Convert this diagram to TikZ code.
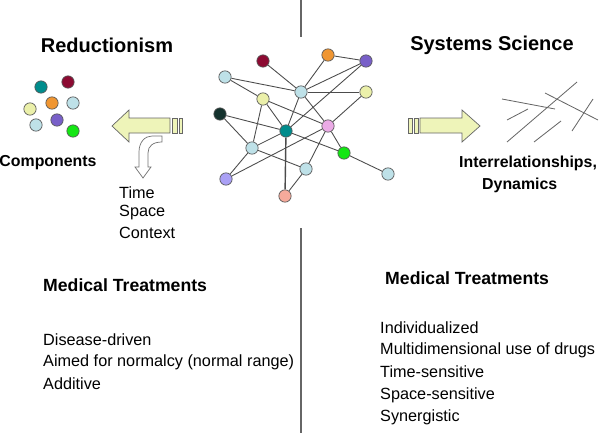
\documentclass[tikz,border=0pt]{standalone}
\usepackage{fontspec}
\setmainfont{Liberation Sans}
\usetikzlibrary{backgrounds}

\definecolor{wine}{RGB}{140,10,50}
\definecolor{amber}{RGB}{240,150,50}
\definecolor{violet}{RGB}{120,95,200}
\definecolor{paleblue}{RGB}{190,225,232}
\definecolor{paleyellow}{RGB}{235,240,170}
\definecolor{nearblack}{RGB}{20,50,45}
\definecolor{tealdot}{RGB}{0,140,140}
\definecolor{pinkdot}{RGB}{235,170,230}
\definecolor{greendot}{RGB}{20,230,20}
\definecolor{lilac}{RGB}{170,160,245}
\definecolor{salmon}{RGB}{245,170,155}
\definecolor{arrowfill}{RGB}{238,244,185}

\tikzset{
  ball/.style={circle, draw=black!65, line width=0.6pt, minimum size=10.5pt, inner sep=0pt},
  link/.style={draw=black!70, line width=0.75pt},
  title/.style={font=\fontsize{17}{20}\selectfont\bfseries},
  subtitle/.style={font=\fontsize{15}{18}\selectfont\bfseries, anchor=west, inner sep=0pt},
  caption/.style={font=\fontsize{13.5}{16}\selectfont\bfseries},
  plain/.style={font=\fontsize{13.8}{16}\selectfont, anchor=west, inner sep=0pt},
  fatarrow/.style={draw=black!60, line width=0.6pt, fill=arrowfill},
}

\begin{document}
\begin{tikzpicture}[x=0.85pt,y=-0.85pt]
  \useasboundingbox (0,0) rectangle (600,433);

  % divider
  \draw[black!60, line width=1.2pt] (301,0) -- (301,37);
  \draw[black!60, line width=1.2pt] (301,228) -- (301,433);

  % headings
  \node[title] (red) at (107,45) {Reductionism};
  \node[title] (sys) at (492,45) {Systems Science};

  % components
  \node[ball, fill=tealdot] (c1) at (41,87) {};
  \node[ball, fill=wine] (c2) at (68,82) {};
  \node[ball, fill=paleyellow] (c3) at (30,109) {};
  \node[ball, fill=amber] (c4) at (52,103) {};
  \node[ball, fill=paleblue] (c5) at (73,103) {};
  \node[ball, fill=paleblue] (c6) at (36,125) {};
  \node[ball, fill=violet] (c7) at (57,120) {};
  \node[ball, fill=greendot] (c8) at (73,131) {};
  \node[caption] (comp) at (48,163) {Components};

  % network
  \node[ball, fill=wine] (dr) at (263,61) {};
  \node[ball, fill=amber] (or) at (328,55) {};
  \node[ball, fill=violet] (pu) at (366,61) {};
  \node[ball, fill=paleblue] (tl) at (225,77) {};
  \node[ball, fill=paleblue] (ct) at (301,92) {};
  \node[ball, fill=paleyellow] (yr) at (366,92) {};
  \node[ball, fill=paleyellow] (yl) at (263,99) {};
  \node[ball, fill=nearblack] (dk) at (220,114) {};
  \node[ball, fill=tealdot] (te) at (286,131) {};
  \node[ball, fill=pinkdot] (pk) at (328,126) {};
  \node[ball, fill=paleblue] (lb) at (252,148) {};
  \node[ball, fill=greendot] (gr) at (344,153) {};
  \node[ball, fill=paleblue] (lw) at (306,169) {};
  \node[ball, fill=paleblue] (rt) at (388,174) {};
  \node[ball, fill=lilac] (li) at (226,179) {};
  \node[ball, fill=salmon] (sa) at (285,196) {};

  \begin{pgfonlayer}{background}
  \foreach \a/\b in {dr/ct, or/ct, or/pu, pu/ct, pu/te, tl/ct, tl/yl, ct/yr,
                     ct/te, ct/pk, yr/pk, yl/te, yl/lb, yl/pk, dk/te, dk/lb,
                     te/lb, te/gr, lb/lw, lb/li, pk/li, pk/lw, pk/gr, gr/rt, lw/sa}
    \draw[link] (\a) -- (\b);
  \draw[link, line width=1.2pt] (te) -- (sa);
  \end{pgfonlayer}

  % left arrow
  \draw[fatarrow] (112,126) -- (129,110) -- (129,118) -- (170,118)
    -- (170,133) -- (129,133) -- (129,142) -- cycle;
  \draw[fatarrow] (172,118) rectangle (177,133);
  \draw[fatarrow] (179,118) rectangle (182,133);

  % bent arrow
  \draw[black!55, line width=0.6pt, fill=white]
    (152,136) -- (162,136) -- (162,142)
    .. controls (153,142) and (148,146) .. (148,153) -- (148,167) -- (151,167)
    -- (143,178) -- (135,167) -- (139,167) -- (139,152)
    .. controls (139,142) and (145,136) .. (152,136);

  \node[plain] (time) at (119,193) {Time};
  \node[plain] (space) at (119,213) {Space};
  \node[plain] (ctx) at (119,233) {Context};

  % right arrow
  \draw[fatarrow] (408,118) rectangle (412,133);
  \draw[fatarrow] (414,118) rectangle (418,133);
  \draw[fatarrow] (420,118) -- (462,118) -- (462,110) -- (480,126)
    -- (462,142) -- (462,133) -- (420,133) -- cycle;

  % loose strokes
  \foreach \p/\q in {{502,99}/{555,109}, {507,120}/{528,109}, {507,142}/{577,82},
                     {534,142}/{561,121}, {545,93}/{598,120}, {572,131}/{593,99}}
    \draw[black!60, line width=0.7pt] (\p) -- (\q);

  \node[caption, anchor=west, inner sep=0pt] (inter) at (459,163) {Interrelationships,};
  \node[caption, anchor=west, inner sep=0pt] (dyn) at (482,185) {Dynamics};

  % treatments
  \node[subtitle] (medl) at (43,285) {Medical Treatments};
  \node[plain] (l1) at (43,340) {Disease-driven};
  \node[plain] (l2) at (43,362) {Aimed for normalcy (normal range)};
  \node[plain] (l3) at (43,384) {Additive};

  \node[subtitle] (medr) at (385,278) {Medical Treatments};
  \node[plain] (r1) at (380,328) {Individualized};
  \node[plain] (r2) at (380,350) {Multidimensional use of drugs};
  \node[plain] (r3) at (380,372) {Time-sensitive};
  \node[plain] (r4) at (380,395) {Space-sensitive};
  \node[plain] (r5) at (380,417) {Synergistic};
\end{tikzpicture}
\end{document}
